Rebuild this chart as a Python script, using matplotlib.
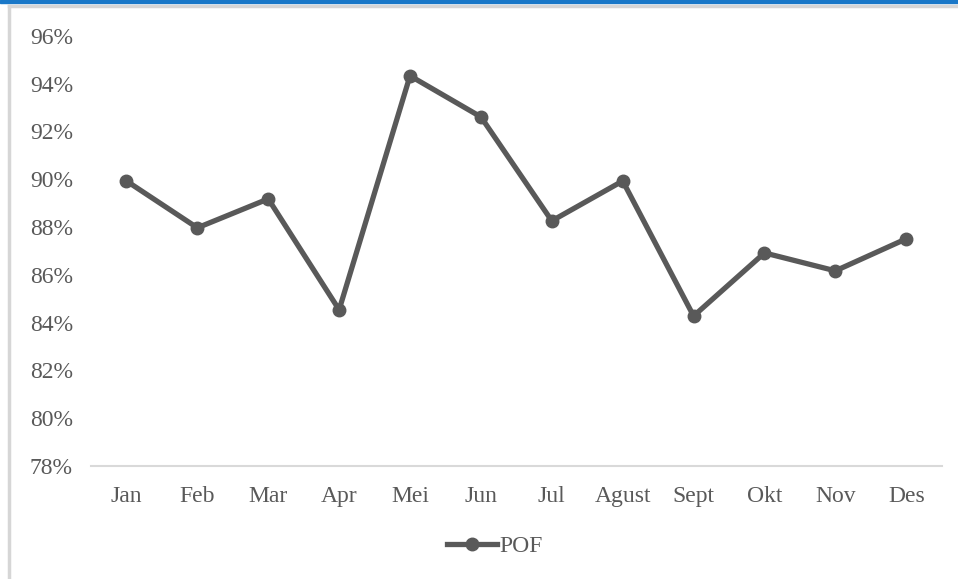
import matplotlib.pyplot as plt
from matplotlib.lines import Line2D
from matplotlib.patches import Rectangle
from matplotlib.ticker import FuncFormatter

months = ["Jan", "Feb", "Mar", "Apr", "Mei", "Jun", "Jul", "Agust", "Sept", "Okt", "Nov", "Des"]
pof = [89.93, 87.97, 89.18, 84.54, 94.33, 92.61, 88.26, 89.93, 84.28, 86.92, 86.17, 87.51]
yticks = [78, 80, 82, 84, 86, 88, 90, 92, 94, 96]

plt.rcParams['font.family'] = ['Liberation Serif', 'DejaVu Serif']
grey = "#595959"

fig = plt.figure(figsize=(9.58, 5.79), dpi=100)
ax = fig.add_axes([0.095, 0.195, 0.888, 0.743])

x = range(len(months))
ax.plot(x, pof, color=grey, lw=3.8, marker="o", ms=9, solid_joinstyle="miter", label="POF")

ax.set_xlim(-0.5, len(months) - 0.5)
ax.set_ylim(78, 96)
ax.set_yticks(yticks)
ax.yaxis.set_major_formatter(FuncFormatter(lambda v, p: f"{v:.0f}%"))
ax.set_xticks(list(x))
ax.set_xticklabels(months)
ax.tick_params(axis="both", length=0, labelsize=17, labelcolor=grey)
ax.tick_params(axis="y", pad=13)
ax.tick_params(axis="x", pad=14)
for s in ["top", "right", "left"]:
    ax.spines[s].set_visible(False)
ax.spines["bottom"].set_color("#d9d9d9")
ax.spines["bottom"].set_linewidth(1.5)

ax.legend(loc="center", bbox_to_anchor=(0.475, -0.186), frameon=False,
          fontsize=17, labelcolor=grey, handlelength=2.1, handletextpad=0.1)

# frame bits from the screenshot
fig.patches.append(Rectangle((0, 1 - 3 / 579), 1, 3 / 579, transform=fig.transFigure,
                             color="#1a78c8", zorder=0))
fig.lines.append(Line2D([9 / 958, 1], [1 - 6 / 579, 1 - 6 / 579], transform=fig.transFigure,
                        color="#d6d6d6", lw=2.5))
fig.lines.append(Line2D([9 / 958, 9 / 958], [0, 1 - 6 / 579], transform=fig.transFigure,
                        color="#d6d6d6", lw=2.5))

fig.savefig("out.png", dpi=100)
